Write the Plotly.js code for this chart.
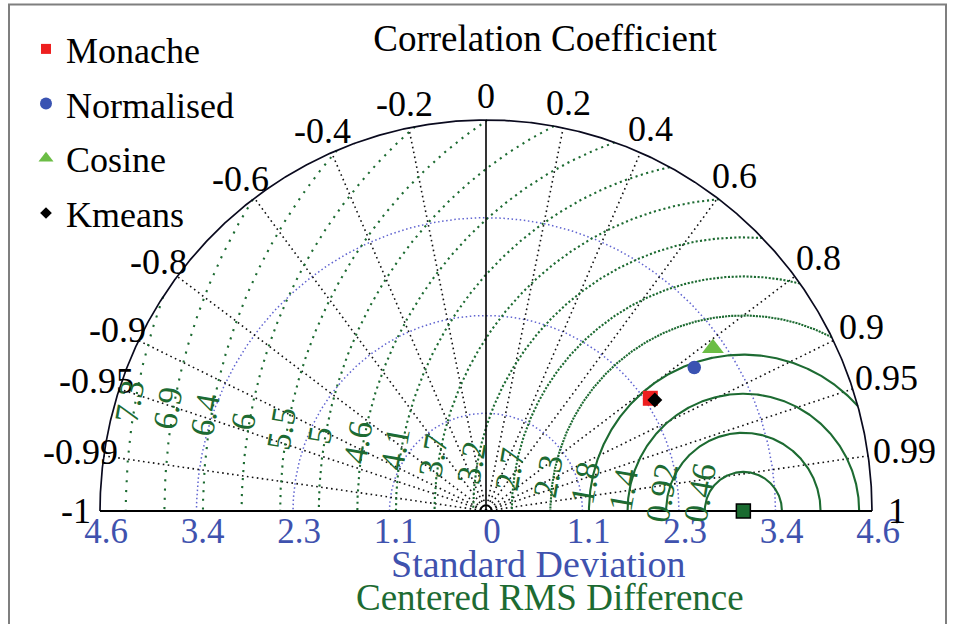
<!DOCTYPE html>
<html><head><meta charset="utf-8">
<script src="https://cdn.plot.ly/plotly-3.0.1.min.js"></script>
<style>html,body{margin:0;padding:0;background:#fff;} #chart{width:958px;height:624px;}</style>
</head><body><div id="chart"></div>
<script>
// ---------------- data ----------------
const models = ['Monache', 'Normalised', 'Cosine', 'Kmeans'];
const modelStd = [2.365, 3.001, 3.314, 2.398];
const modelCorr = [0.828, 0.827, 0.816, 0.839];
const refStd = 3.067;
const stdMax = 4.6;
const stdTickVals = [-4.6, -3.45, -2.3, -1.15, 0, 1.15, 2.3, 3.45, 4.6];
const stdTickText = ['4.6', '3.4', '2.3', '1.1', '0', '1.1', '2.3', '3.4', '4.6'];
const stdCircles = [1.15, 2.3, 3.45];
const corrTicks = [-1, -0.99, -0.95, -0.9, -0.8, -0.6, -0.4, -0.2, 0, 0.2, 0.4, 0.6, 0.8, 0.9, 0.95, 0.99, 1];
const corrTickText = ['-1', '-0.99', '-0.95', '-0.9', '-0.8', '-0.6', '-0.4', '-0.2', '0', '0.2', '0.4', '0.6', '0.8', '0.9', '0.95', '0.99', '1'];
const rmsLevels = [0.46, 0.92, 1.38, 1.84, 2.3, 2.76, 3.22, 3.68, 4.14, 4.6, 5.06, 5.52, 5.98, 6.44, 6.9, 7.36];
const rmsLabels = ['0.46', '0.92', '1.4', '1.8', '2.3', '2.7', '3.2', '3.7', '4.1', '4.6', '5', '5.5', '6', '6.4', '6.9', '7.3'];

// ---------------- layout constants (pixels) ----------------
const W = 958, H = 624, CX = 486, CY = 511, RX = 386, RY = 391;
const kx = RX / stdMax, ky = RY / stdMax;
const FONT = 'Liberation Serif, Times New Roman, serif';
const BLUE_TXT = '#3f52ae', GREEN = '#1d6b32', STD_BLUE = '#5f63d0';
const markerSymbols = ['square', 'circle', 'triangle-up', 'diamond'];
const markerColors = ['#ee1f1f', '#3a53b2', '#6bbd45', '#000000'];
const markerSizes = [15, 13.5, 19, 11.5];
const legendSizes = [10, 12, 13, 9];

function arc(cx, r, t0, t1, n) {
  const x = [], y = [];
  for (let i = 0; i <= n; i++) {
    const t = t0 + (t1 - t0) * i / n;
    x.push(cx + r * Math.cos(t)); y.push(r * Math.sin(t));
  }
  return {x, y};
}

const traces = [];
// std dev circles
stdCircles.forEach(s => {
  const a = arc(0, s, 0, Math.PI, 360);
  traces.push({type: 'scatter', mode: 'lines', x: a.x, y: a.y, hoverinfo: 'skip', showlegend: false,
    line: {color: STD_BLUE, width: 1.5, dash: '1.5px,2.6px'}});
});
// correlation rays
{
  const x = [], y = [];
  corrTicks.forEach(c => {
    if (c === 0 || Math.abs(c) === 1) return;
    x.push(0, stdMax * c, null); y.push(0, stdMax * Math.sqrt(1 - c * c), null);
  });
  traces.push({type: 'scatter', mode: 'lines', x, y, hoverinfo: 'skip', showlegend: false,
    line: {color: '#111', width: 1.6, dash: '1.6px,3.4px'}});
}
// RMS circles
rmsLevels.forEach(r => {
  let cosT0 = (stdMax * stdMax - refStd * refStd - r * r) / (2 * refStd * r);
  const t0 = cosT0 >= 1 ? 0 : Math.acos(cosT0);
  const a = arc(refStd, r, t0, Math.PI, 400);
  const spacing = 0.016 * r * kx;
  const dash = spacing < 2.6 ? 'solid' : ('2.1px,' + (spacing - 2.1).toFixed(2) + 'px');
  traces.push({type: 'scatter', mode: 'lines', x: a.x, y: a.y, hoverinfo: 'skip', showlegend: false,
    line: {color: GREEN, width: 2.1, dash}});
});
// small arc at origin
{
  const a = arc(0, 0.065, 0, Math.PI, 60);
  traces.push({type: 'scatter', mode: 'lines', x: a.x, y: a.y, hoverinfo: 'skip', showlegend: false,
    line: {color: '#000', width: 1.2}});
}
// outer rim, baseline, zero-correlation line
{
  const a = arc(0, stdMax, 0, Math.PI, 720);
  traces.push({type: 'scatter', mode: 'lines', x: a.x, y: a.y, hoverinfo: 'skip', showlegend: false,
    line: {color: '#0a0a1e', width: 1.7}});
  traces.push({type: 'scatter', mode: 'lines', x: [-stdMax, stdMax], y: [0, 0], hoverinfo: 'skip', showlegend: false,
    line: {color: '#000', width: 2}});
  traces.push({type: 'scatter', mode: 'lines', x: [0, 0], y: [0, stdMax], hoverinfo: 'skip', showlegend: false,
    line: {color: '#000', width: 1.6}});
}
// reference point
traces.push({type: 'scatter', mode: 'markers', x: [refStd], y: [0], cliponaxis: false, showlegend: false, hoverinfo: 'skip',
  marker: {symbol: 'square', size: 14, color: '#1a6b30', line: {color: '#000', width: 1.5}}});
// model points
models.forEach((m, i) => {
  const th = Math.acos(modelCorr[i]);
  traces.push({type: 'scatter', mode: 'markers', name: m, showlegend: false, cliponaxis: false,
    x: [modelStd[i] * Math.cos(th)], y: [modelStd[i] * Math.sin(th)],
    marker: {symbol: markerSymbols[i], size: markerSizes[i], color: markerColors[i], line: {width: 0}}});
});
// legend entries
models.forEach((m, i) => {
  traces.push({type: 'scatter', mode: 'markers', name: m, x: [null], y: [null], showlegend: true, legendgroup: 'g' + i,
    marker: {symbol: markerSymbols[i], size: legendSizes[i], color: markerColors[i], line: {width: 0}}});
});

// annotations
const annotations = [];
corrTicks.forEach((c, i) => {
  const th = Math.acos(c);
  const txt = corrTickText[i];
  let d = 24;
  if (c > 0) d = 25 + 8 * c * c + 4 * (txt.length - 3) * c * c;
  annotations.push({x: (RX + d) * Math.cos(th) / kx, y: (RY + d) * Math.sin(th) / ky, xref: 'x', yref: 'y',
    text: txt, showarrow: false, xanchor: 'center', yanchor: 'middle',
    font: {family: FONT, size: 36, color: '#000'}});
});
rmsLevels.forEach((r, i) => {
  const ang = 170 * Math.PI / 180;
  const rpxX = r * kx + 6, rpxY = r * ky + 6;
  const halfLen = rmsLabels[i].length * 7.5;
  let dy = Math.max(rpxY * Math.sin(ang), halfLen - 11);
  annotations.push({x: refStd + rpxX * Math.cos(ang) / kx, y: dy / ky, xref: 'x', yref: 'y',
    text: rmsLabels[i], showarrow: false, xanchor: 'center', yanchor: 'middle', textangle: -80,
    font: {family: FONT, size: 34, color: GREEN}});
});
annotations.push({x: 538 / W, y: 1 - 564 / H, xref: 'paper', yref: 'paper', text: 'Standard Deviation', showarrow: false,
  xanchor: 'center', yanchor: 'middle', font: {family: FONT, size: 38, color: BLUE_TXT}});
annotations.push({x: 550 / W, y: 1 - 597 / H, xref: 'paper', yref: 'paper', text: 'Centered RMS Difference', showarrow: false,
  xanchor: 'center', yanchor: 'middle', font: {family: FONT, size: 37, color: GREEN}});

const layout = {
  width: W, height: H, margin: {l: 0, r: 0, t: 0, b: 0}, paper_bgcolor: '#fff', plot_bgcolor: 'rgba(0,0,0,0)',
  title: {text: 'Correlation Coefficient', x: 545 / W, y: 1 - 38 / H, xanchor: 'center', yanchor: 'middle',
    font: {family: FONT, size: 37, color: '#000'}},
  xaxis: {range: [-CX / kx, (W - CX) / kx], tickmode: 'array', tickvals: stdTickVals, ticktext: stdTickText,
    showgrid: false, zeroline: false, showline: false, ticks: '', anchor: 'free', position: (H - CY + 4) / H,
    tickfont: {family: FONT, size: 35, color: BLUE_TXT}, ticklabelshift: 6, automargin: false, fixedrange: true},
  yaxis: {range: [-(H - CY) / ky, CY / ky], visible: false, showgrid: false, zeroline: false, fixedrange: true},
  showlegend: true,
  legend: {x: 26 / W, y: 1 - 19 / H, xanchor: 'left', yanchor: 'top', bgcolor: 'rgba(0,0,0,0)', borderwidth: 0,
    font: {family: FONT, size: 36, color: '#000'}, tracegroupgap: 4.9, traceorder: 'grouped', itemsizing: 'trace'},
  annotations,
  shapes: [{type: 'rect', xref: 'paper', yref: 'paper', x0: 9 / W, x1: 946 / W, y0: -0.05, y1: 1 - 4.5 / H,
    line: {color: '#7f7f7f', width: 2}, fillcolor: 'rgba(0,0,0,0)', layer: 'below'}]
};
Plotly.newPlot('chart', traces, layout, {displayModeBar: false, staticPlot: true});
</script></body></html>
